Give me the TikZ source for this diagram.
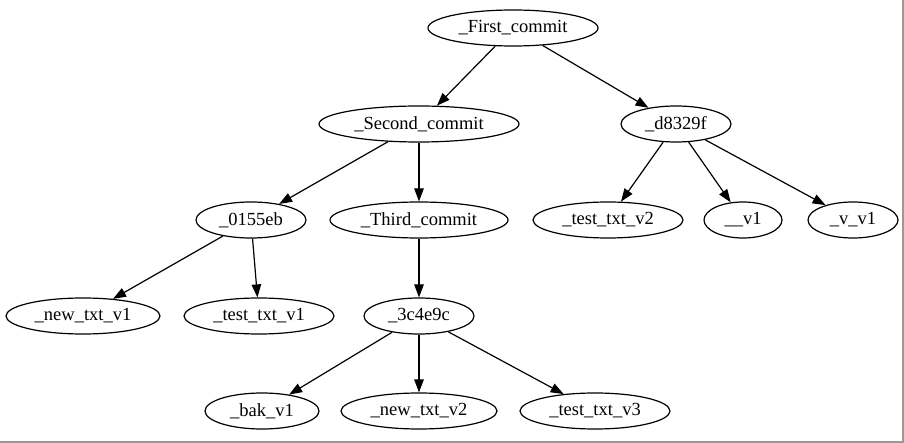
\documentclass[tikz,border=0pt]{standalone}
\usepackage{fontspec}
\setmainfont{Liberation Serif}
\usetikzlibrary{shapes.geometric,arrows.meta}
\begin{document}
\begin{tikzpicture}[x=1pt,y=-1pt,
  gnode/.style={draw,ellipse,inner sep=0pt,minimum height=36pt,line width=1.2pt,
    font=\fontsize{18.5pt}{20pt}\selectfont},
  edge/.style={-{Triangle[length=13pt,width=9.5pt]},line width=1.2pt}]
\useasboundingbox (0,0) rectangle (904,443);
\fill[white] (0,0) rectangle (904,443);
\draw[gray!80,line width=1.5pt] (903,0) -- (903,442) -- (0,442);
\node[gnode,minimum width=170pt] (f) at (513,28) {\_First\_commit};
\node[gnode,minimum width=200pt] (s) at (419,124) {\_Second\_commit};
\node[gnode,minimum width=110pt] (d) at (676,124) {\_d8329f};
\node[gnode,minimum width=110pt] (e) at (251,220) {\_0155eb};
\node[gnode,minimum width=178pt] (t) at (419,220) {\_Third\_commit};
\node[gnode,minimum width=150pt] (ttv2) at (608,220) {\_test\_txt\_v2};
\node[gnode,minimum width=78pt] (v1) at (743,220) {\_\_v1};
\node[gnode,minimum width=90pt] (vv1) at (853,220) {\_v\_v1};
\node[gnode,minimum width=154pt] (ntv1) at (83,316) {\_new\_txt\_v1};
\node[gnode,minimum width=150pt] (ttv1) at (259,316) {\_test\_txt\_v1};
\node[gnode,minimum width=110pt] (c) at (419,316) {\_3c4e9c};
\node[gnode,minimum width=114pt] (bak) at (262,411) {\_bak\_v1};
\node[gnode,minimum width=156pt] (ntv2) at (419,411) {\_new\_txt\_v2};
\node[gnode,minimum width=150pt] (ttv3) at (595,411) {\_test\_txt\_v3};
\draw[edge] (f) -- (s);
\draw[edge] (f) -- (d);
\draw[edge] (s) -- (e);
\draw[edge] (s) -- (t);
\draw[edge] (d) -- (ttv2);
\draw[edge] (d) -- (v1);
\draw[edge] (d) -- (vv1);
\draw[edge] (e) -- (ntv1);
\draw[edge] (e) -- (ttv1);
\draw[edge] (t) -- (c);
\draw[edge] (c) -- (bak);
\draw[edge] (c) -- (ntv2);
\draw[edge] (c) -- (ttv3);
\end{tikzpicture}
\end{document}
